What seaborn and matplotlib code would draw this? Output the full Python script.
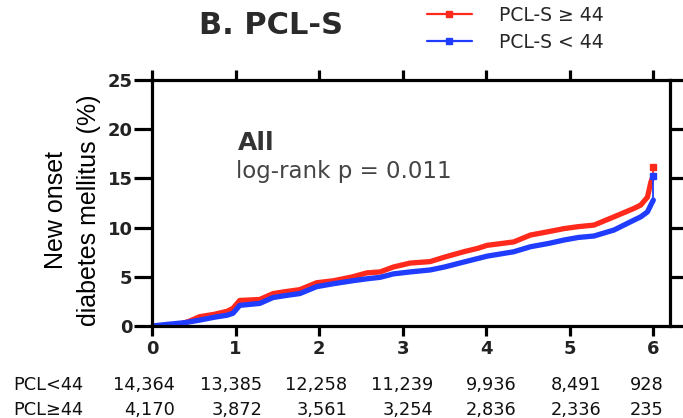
import matplotlib
matplotlib.use("Agg")
import matplotlib.pyplot as plt
import matplotlib.font_manager as fm
import matplotlib.transforms as mtransforms
import seaborn as sns
import pandas as pd
from matplotlib.lines import Line2D

sns.set_theme(style="white")
plt.rcParams['font.family'] = ['DejaVu Sans']

# ---------------- data ----------------
groups = ["PCL-S \u2265 44", "PCL-S < 44"]
years_high = [0, 0.3, 0.45, 0.57, 0.75, 0.9, 0.97, 1.05, 1.29, 1.45, 1.6, 1.77, 1.97, 2.17,
              2.4, 2.57, 2.73, 2.89, 3.09, 3.33, 3.5, 3.73, 3.9, 4.01, 4.33, 4.53, 4.75,
              4.93, 5.1, 5.29, 5.53, 5.77, 5.85, 5.93, 5.97, 6.0]
pct_high = [0, 0.1, 0.5, 0.95, 1.2, 1.5, 1.8, 2.6, 2.7, 3.3, 3.5, 3.7, 4.4, 4.6,
            5.0, 5.4, 5.5, 6.0, 6.4, 6.55, 7.0, 7.55, 7.9, 8.2, 8.55, 9.25, 9.6,
            9.9, 10.1, 10.26, 11.1, 11.96, 12.3, 13.1, 14.6, 15.3]
years_low = [0, 0.16, 0.4, 0.57, 0.75, 0.9, 0.97, 1.05, 1.29, 1.45, 1.6, 1.77, 1.97, 2.17,
             2.4, 2.57, 2.73, 2.89, 3.09, 3.33, 3.5, 3.73, 4.01, 4.33, 4.53, 4.75, 4.93,
             5.1, 5.29, 5.53, 5.77, 5.85, 5.93, 5.97, 6.0]
pct_low = [0, 0.15, 0.35, 0.6, 0.9, 1.1, 1.3, 2.1, 2.3, 2.9, 3.1, 3.3, 4.0, 4.3,
           4.6, 4.8, 4.95, 5.3, 5.5, 5.7, 6.0, 6.5, 7.1, 7.55, 8.06, 8.4, 8.74,
           9.0, 9.15, 9.76, 10.77, 11.1, 11.6, 12.3, 12.8]
final_high = 16.2
final_low = 15.2

risk_times = [0, 1, 2, 3, 4, 5, 6]
risk_low = ["14,364", "13,385", "12,258", "11,239", "9,936", "8,491", "928"]
risk_high = ["4,170", "3,872", "3,561", "3,254", "2,836", "2,336", "235"]
risk_labels = ["PCL<44", "PCL\u226544"]

xticks = [0, 1, 2, 3, 4, 5, 6]
yticks = [0, 5, 10, 15, 20, 25]

RED = "#ff2a1c"
BLUE = "#1f3cff"

df = pd.concat([
    pd.DataFrame({"year": years_high, "pct": pct_high, "group": groups[0]}),
    pd.DataFrame({"year": years_low, "pct": pct_low, "group": groups[1]}),
])

fig = plt.figure(figsize=(6.83, 4.18), dpi=100)
ax = fig.add_axes([0.2225, 0.22, 0.7585, 0.5885])

sns.lineplot(data=df, x="year", y="pct", hue="group", hue_order=groups,
             palette=[RED, BLUE], linewidth=3.8, legend=False, ax=ax,
             estimator=None, sort=False)
# final jumps (thin) with censor squares
ax.plot([years_high[-1], years_high[-1]], [pct_high[-1], final_high], color=RED, lw=1.3)
ax.plot([years_low[-1], years_low[-1]], [pct_low[-1], final_low], color=BLUE, lw=1.3)
ax.plot([years_high[-1]], [final_high], marker="s", ms=4.5, color=RED, ls="none")
ax.plot([years_low[-1]], [final_low], marker="s", ms=4.5, color=BLUE, ls="none")

ax.set_xlim(0, 6.2)
ax.set_ylim(0, 25)
ax.set_xticks(xticks)
ax.set_yticks(yticks)
ax.set_xlabel("")
ax.set_ylabel("")
for s in ax.spines.values():
    s.set_visible(True)
    s.set_linewidth(2.3)
    s.set_color("black")
ax.tick_params(axis="x", which="both", direction="out", length=7, width=2.3,
               top=True, bottom=True, labeltop=False, pad=3, colors="black")
ax.tick_params(axis="y", which="both", direction="out", length=13, width=2.3,
               left=True, right=True, labelright=False, pad=1, colors="black")
for lab in ax.get_xticklabels() + ax.get_yticklabels():
    lab.set_fontweight("bold")
    lab.set_fontsize(13)
    lab.set_color("#222222")

ax.text(1.03, 17.9, "All", fontsize=18, fontweight="bold", color="#333333", va="baseline")
ax.text(1.0, 15.0, "log-rank p = 0.011", fontsize=16.5, color="#444444", va="baseline")

# y label
avail = {f.name for f in fm.fontManager.ttflist}
narrow = "Liberation Sans Narrow" if "Liberation Sans Narrow" in avail else "Liberation Sans"
fig.text(0.106, 0.497, "New onset\ndiabetes mellitus (%)", rotation=90, ha="center",
         va="center", multialignment="center", fontsize=21 if narrow.endswith("Narrow") else 18,
         family=[narrow, "DejaVu Sans"], linespacing=1.45, color="black")

fig.text(0.397, 0.94, "B. PCL-S", fontsize=22, fontweight="bold", color="#2a2a2a",
         ha="center", va="center")

handles = [Line2D([0], [0], color=RED, lw=1.6, marker="s", ms=4.5),
           Line2D([0], [0], color=BLUE, lw=1.6, marker="s", ms=4.5)]
fig.legend(handles, groups, loc="center left", bbox_to_anchor=(0.625, 0.931),
           frameon=False, fontsize=13.5, handlelength=2.4, handletextpad=1.45,
           labelspacing=0.45, borderpad=0, borderaxespad=0, numpoints=1)

# number at risk table
offs = [0.28, 0.32, 0.34, 0.37, 0.36, 0.38, 0.12]
trans = mtransforms.blended_transform_factory(ax.transData, fig.transFigure)
y1 = 1 - 385 / 418
y2 = 1 - 410 / 418
for t, o, a in zip(risk_times, offs, risk_low):
    ax.text(t + o, y1, a, transform=trans, ha="right", va="center", fontsize=12.8,
            clip_on=False, color="#111111")
for t, o, b in zip(risk_times, offs, risk_high):
    ax.text(t + o, y2, b, transform=trans, ha="right", va="center", fontsize=12.8,
            clip_on=False, color="#111111")
fig.text(13 / 683, y1, risk_labels[0], ha="left", va="center", fontsize=12.8, color="#111111")
fig.text(13 / 683, y2, risk_labels[1], ha="left", va="center", fontsize=12.8, color="#111111")

fig.savefig("out.png", dpi=100)
